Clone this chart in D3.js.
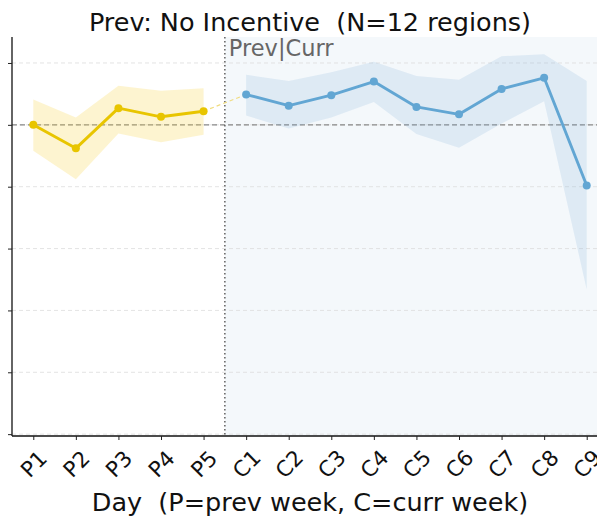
<!DOCTYPE html>
<html>
<head>
<meta charset="utf-8">
<script src="https://cdn.jsdelivr.net/npm/d3@7"></script>
<style>
  html, body { margin: 0; padding: 0; background: #fff; }
  svg { display: block; font-family: "DejaVu Sans", sans-serif; }
  text { white-space: pre; }
</style>
</head>
<body>
<svg id="chart" width="597" height="520"></svg>
<script>
// Day labels: previous week (P) then current week (C)
const prevDays = ["P1", "P2", "P3", "P4", "P5"];
const currDays = ["C1", "C2", "C3", "C4", "C5", "C6", "C7", "C8", "C9"];

// Mean change per day and its band (upper / lower)
const prevMean  = [0.0, -3.8, 2.7, 1.3, 2.2];
const prevUpper = [4.1, 1.2, 6.3, 5.5, 5.9];
const prevLower = [-4.2, -8.8, -1.4, -2.8, -1.6];

const currMean  = [4.9, 3.1, 4.8, 7.0, 2.9, 1.7, 5.8, 7.6, -9.8];
const currUpper = [8.1, 7.1, 8.5, 10.2, 7.9, 7.3, 11.1, 11.4, 7.1];
const currLower = [1.5, -0.6, 1.2, 3.7, -1.5, -3.7, 0.2, 3.8, -26.6];

const yTicks = [10, 0, -10, -20, -30, -40, -50];

const titleText = "Prev: No Incentive  (N=12 regions)";
const xLabelText = "Day  (P=prev week, C=curr week)";
const splitLabel = "Prev|Curr";

const allDays = prevDays.concat(currDays);
const svg = d3.select("#chart");

const pLeft = 12, pRight = 608, pTop = 37, pBottom = 436;

const x = d3.scaleLinear()
  .domain([-0.5, allDays.length - 0.5])
  .range([pLeft, pRight]);
const y = d3.scaleLinear()
  .domain([-50.3, 14.2])
  .range([pBottom, pTop]);

const prevRows = prevDays.map((d, i) => ({ i, m: prevMean[i], u: prevUpper[i], l: prevLower[i] }));
const currRows = currDays.map((d, j) => ({ i: j + prevDays.length, m: currMean[j], u: currUpper[j], l: currLower[j] }));

svg.append("defs").append("clipPath").attr("id", "plot")
  .append("rect").attr("x", pLeft).attr("y", pTop)
  .attr("width", pRight - pLeft).attr("height", pBottom - pTop);

const plot = svg.append("g").attr("clip-path", "url(#plot)");

// Shaded current-week region
const splitX = x(prevDays.length - 0.5);
plot.append("rect")
  .attr("x", splitX).attr("y", pTop)
  .attr("width", pRight - splitX).attr("height", pBottom - pTop)
  .attr("fill", "#f4f8fb");

// Horizontal grid
plot.selectAll("line.grid").data(yTicks).enter().append("line")
  .attr("class", "grid")
  .attr("x1", pLeft).attr("x2", pRight)
  .attr("y1", d => y(d)).attr("y2", d => y(d))
  .attr("stroke", "#dcdcdc").attr("stroke-width", 0.8)
  .attr("stroke-dasharray", "4,3");

// Zero reference line
plot.append("line")
  .attr("x1", pLeft).attr("x2", pRight)
  .attr("y1", y(0)).attr("y2", y(0))
  .attr("stroke", "#888").attr("stroke-width", 1.1)
  .attr("stroke-dasharray", "5,3");

// Split line between weeks
plot.append("line")
  .attr("x1", splitX).attr("x2", splitX)
  .attr("y1", pTop).attr("y2", pBottom)
  .attr("stroke", "#555").attr("stroke-width", 1.4)
  .attr("stroke-dasharray", "1.5,2.5");

const area = d3.area().x(d => x(d.i)).y0(d => y(d.l)).y1(d => y(d.u));
const line = d3.line().x(d => x(d.i)).y(d => y(d.m));

const yellow = "#e8c500", blue = "#62a6d3";

plot.append("path").datum(prevRows).attr("d", area)
  .attr("fill", "#f5d33a").attr("fill-opacity", 0.24);
plot.append("path").datum(currRows).attr("d", area)
  .attr("fill", "#7aaed6").attr("fill-opacity", 0.18);

// Link between last prev day and first curr day
plot.append("path")
  .datum([prevRows[prevRows.length - 1], currRows[0]])
  .attr("d", line)
  .attr("fill", "none").attr("stroke", "#f0dc80").attr("stroke-width", 1.2)
  .attr("stroke-dasharray", "4,3");

[[prevRows, yellow], [currRows, blue]].forEach(([rows, c]) => {
  plot.append("path").datum(rows).attr("d", line)
    .attr("fill", "none").attr("stroke", c).attr("stroke-width", 2.9)
    .attr("stroke-linejoin", "round");
  plot.selectAll(null).data(rows).enter().append("circle")
    .attr("cx", d => x(d.i)).attr("cy", d => y(d.m)).attr("r", 4)
    .attr("fill", c);
});

// Axes
const yAxis = svg.append("g").attr("transform", `translate(${pLeft},0)`)
  .call(d3.axisLeft(y).tickValues(yTicks).tickSize(4).tickFormat(""));
yAxis.select(".domain").attr("d", `M0,${pTop}V${pBottom}`).attr("stroke", "#111").attr("stroke-width", 1.3);
yAxis.selectAll(".tick line").attr("stroke", "#222");

const xAxis = svg.append("g").attr("transform", `translate(0,${pBottom})`)
  .call(d3.axisBottom(x).tickValues(d3.range(allDays.length)).tickSize(4)
    .tickFormat(i => allDays[i]));
xAxis.select(".domain").attr("d", `M${pLeft},0H${pRight}`).attr("stroke", "#111").attr("stroke-width", 1.3);
xAxis.selectAll(".tick line").attr("stroke", "#222");
xAxis.selectAll(".tick text")
  .attr("font-family", "DejaVu Sans, sans-serif")
  .attr("font-size", 21.5).attr("fill", "#111")
  .attr("text-anchor", "middle")
  .attr("dy", null).attr("y", 0)
  .attr("dominant-baseline", "central")
  .attr("transform", "translate(0,28) rotate(-45)");

// Texts
svg.append("text").attr("x", 310).attr("y", 31)
  .attr("text-anchor", "middle").attr("font-size", 25.5).attr("fill", "#111")
  .text(titleText);

svg.append("text").attr("x", splitX + 4).attr("y", 56)
  .attr("font-size", 22.5).attr("fill", "#666")
  .text(splitLabel);

svg.append("text").attr("x", 310).attr("y", 511)
  .attr("text-anchor", "middle").attr("font-size", 25.5).attr("fill", "#111")
  .text(xLabelText);
</script>
</body>
</html>
